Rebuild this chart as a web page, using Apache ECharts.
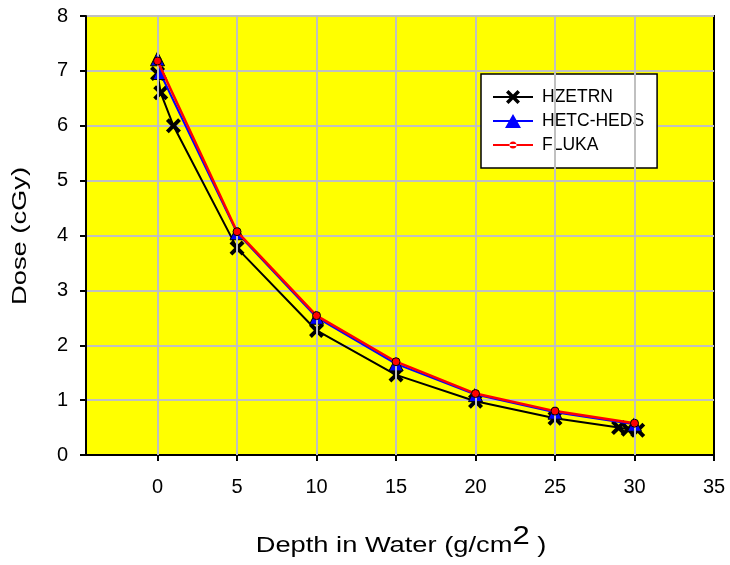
<!DOCTYPE html>
<html>
<head>
<meta charset="utf-8">
<script src="https://cdn.jsdelivr.net/npm/echarts@6/dist/echarts.min.js"></script>
<style>html,body{margin:0;padding:0;background:#fff;}#c{width:730px;height:565px;}</style>
</head>
<body>
<div id="c"></div>
<script>
var xTicks = [0, 5, 10, 15, 20, 25, 30, 35];
var xGridLines = [0, 5, 10, 15, 20, 25, 30];
var hzetrnX = [0, 0.2, 1, 5, 10, 15, 20, 25, 29, 29.6, 30.2];
var hzetrnY = [6.95, 6.6, 6.0, 3.77, 2.27, 1.46, 0.98, 0.67, 0.5, 0.47, 0.45];
var hetcX = [0, 0.15, 5, 10, 15, 20, 25, 30];
var hetcY = [7.22, 6.97, 4.05, 2.51, 1.66, 1.1, 0.78, 0.56];
var flukaX = [0, 5, 10, 15, 20, 25, 30];
var flukaY = [7.18, 4.07, 2.54, 1.7, 1.12, 0.8, 0.58];
var seriesNames = ['HZETRN', 'HETC-HEDS', 'FLUKA'];

function pairs(xs, ys) { return xs.map(function (x, i) { return [x, ys[i]]; }); }

var xSym = 'path://M0,3 L3,0 L8,5 L13,0 L16,3 L11,8 L16,13 L13,16 L8,11 L3,16 L0,13 L5,8 Z';
var bar = 'M0,7 L40,7 L40,9 L0,9 Z ';
var iconX = 'path://' + bar + 'M13,3.5 L15.5,1 L20,5.5 L24.5,1 L27,3.5 L22.5,8 L27,12.5 L24.5,15 L20,10.5 L15.5,15 L13,12.5 L17.5,8 Z';
var iconTri = 'path://' + bar + 'M20,1 L28,15 L12,15 Z';
var iconDot = 'path://' + bar + 'M16.5,8 A3.5,3.5 0 1 0 23.5,8 A3.5,3.5 0 1 0 16.5,8 Z';
var font = 'Arial, "Liberation Sans", sans-serif';

var chart = echarts.init(document.getElementById('c'));
chart.setOption({
  animation: false,
  backgroundColor: '#ffffff',
  grid: {
    left: 86, top: 16, width: 628, height: 439,
    outerBoundsMode: 'none', containLabel: false,
    show: true, backgroundColor: '#ffff00', borderColor: '#000', borderWidth: 2
  },
  legend: {
    left: 481, top: 74, orient: 'vertical',
    backgroundColor: '#fff', borderColor: '#000', borderWidth: 1.5,
    padding: [14, 13, 14, 12],
    itemWidth: 40, itemHeight: 16, itemGap: 6,
    textStyle: { fontFamily: font, fontSize: 17.5, color: '#000', padding: [0, 0, 0, 4] },
    data: [
      { name: seriesNames[0], icon: iconX, itemStyle: { borderWidth: 0 } },
      { name: seriesNames[1], icon: iconTri, itemStyle: { borderWidth: 0 } },
      { name: seriesNames[2], icon: iconDot, itemStyle: { borderWidth: 0 } }
    ]
  },
  graphic: [
    {
      type: 'text', x: 401, y: 546,
      scaleX: 1.24,
      style: {
        text: 'Depth in Water (g/cm{sup|2} )',
        font: '22px ' + font, fill: '#000', align: 'center', verticalAlign: 'middle',
        rich: { sup: { fontFamily: font, fontSize: 25, fill: '#000', verticalAlign: 'bottom', padding: [0, 0, 17, 0] } }
      }
    },
    {
      type: 'text', x: 20.5, y: 236, rotation: Math.PI / 2,
      scaleX: 1.3,
      style: {
        text: 'Dose (cGy)', font: '21px ' + font, fill: '#000',
        align: 'center', verticalAlign: 'middle'
      }
    }
  ],
  xAxis: {
    type: 'value', min: -4.5, max: 35,
    axisLine: { show: true, onZero: false, lineStyle: { color: '#000', width: 2 } },
    axisTick: { show: true, length: 6, inside: false, customValues: xTicks, lineStyle: { color: '#000', width: 2 } },
    axisLabel: { customValues: xTicks, margin: 22, fontFamily: font, fontSize: 20, color: '#000' },
    splitLine: { show: false }
  },
  yAxis: {
    type: 'value', min: 0, max: 8, interval: 1,
    axisLine: { show: true, onZero: false, lineStyle: { color: '#000', width: 2 } },
    axisTick: { show: true, length: 6, lineStyle: { color: '#000', width: 2 } },
    axisLabel: { margin: 18, fontFamily: font, fontSize: 20, color: '#000' },
    splitLine: { show: true, lineStyle: { color: '#c0c0c0', width: 2 } }
  },
  series: [
    {
      name: 'grid', type: 'line', data: [], z: 1, silent: true,
      markLine: {
        silent: true, symbol: 'none', label: { show: false },
        lineStyle: { color: '#c0c0c0', width: 2, type: 'solid' },
        data: xGridLines.map(function (v) { return { xAxis: v }; })
      }
    },
    {
      name: seriesNames[0], type: 'line', z: 3, data: pairs(hzetrnX, hzetrnY),
      symbol: xSym, symbolSize: 15, showAllSymbol: true,
      itemStyle: { color: '#000' },
      lineStyle: { color: '#000', width: 2 }
    },
    {
      name: seriesNames[1], type: 'line', z: 4, data: pairs(hetcX, hetcY),
      symbol: 'triangle', symbolSize: 14, showAllSymbol: true,
      itemStyle: { color: '#0000ff', borderColor: '#000', borderWidth: 1 },
      lineStyle: { color: '#0000ff', width: 2 }
    },
    {
      name: seriesNames[2], type: 'line', z: 5, data: pairs(flukaX, flukaY),
      symbol: 'circle', symbolSize: 8, showAllSymbol: true,
      itemStyle: { color: '#ff0000', borderColor: '#000', borderWidth: 1 },
      lineStyle: { color: '#ff0000', width: 2.5 }
    }
  ]
});
</script>
</body>
</html>
